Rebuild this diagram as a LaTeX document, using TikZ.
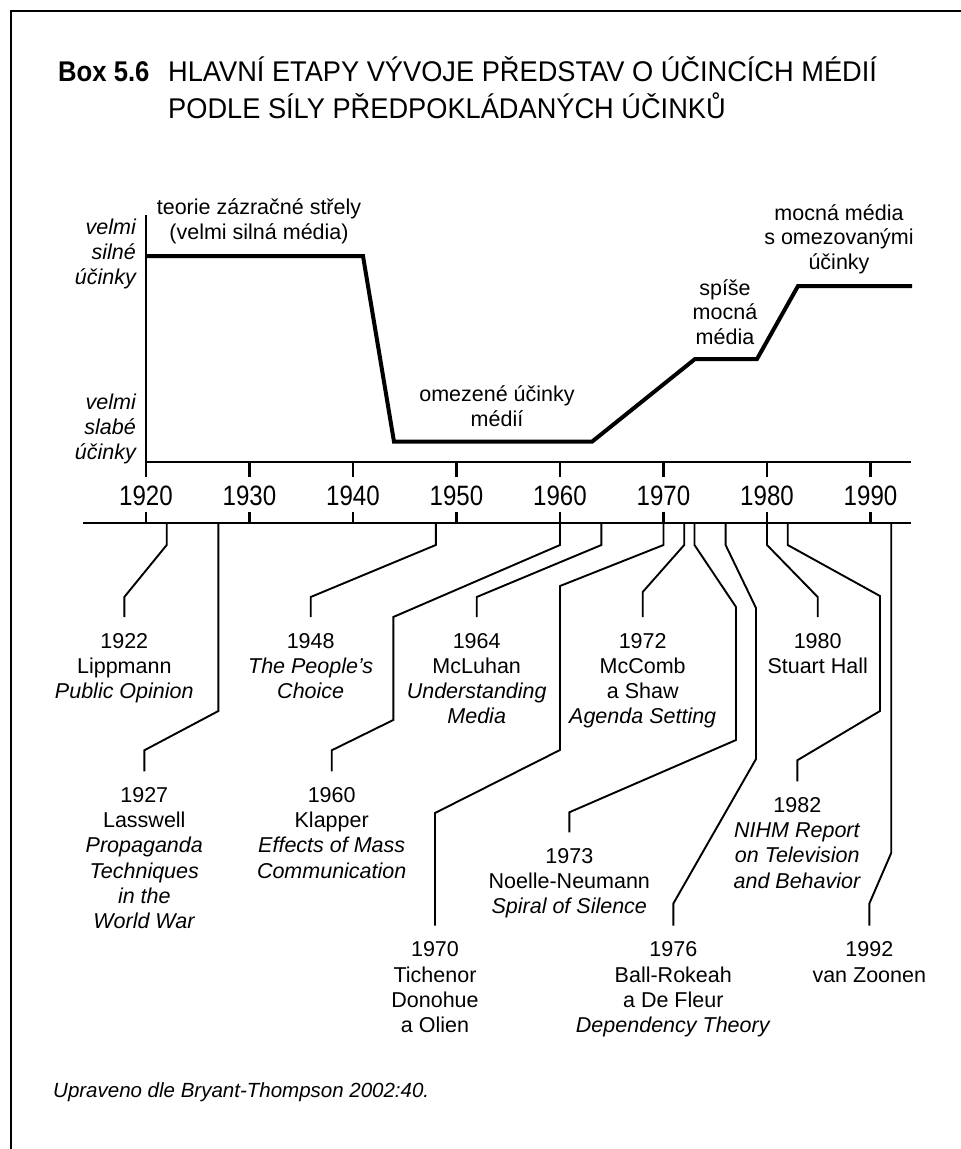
\documentclass[tikz,border=0pt]{standalone}
\usepackage{fontspec}
\setmainfont{Liberation Sans}
\newfontfamily\condfont[FakeStretch=0.86]{Liberation Sans}
\newfontfamily\titlefont[FakeStretch=0.955]{Liberation Sans}
\newfontfamily\boxfont[FakeStretch=0.9]{Liberation Sans}
\tikzset{
  frameline/.style={line width=2.2pt},
  axisline/.style={line width=2.4pt},
  curveline/.style={line width=4pt},
  conn/.style={line width=1.9pt},
  lbl/.style={inner sep=0pt, align=center, anchor=north, font=\fontsize{21.5}{25.2}\selectfont},
  clbl/.style={inner sep=0pt, align=center, font=\fontsize{21.5}{24.5}\selectfont},
  ylbl/.style={inner sep=0pt, align=right, anchor=east, font=\fontsize{21.5}{25.2}\selectfont\itshape},
  yearlbl/.style={inner sep=0pt, font=\condfont\fontsize{28}{30}\selectfont},
}
\begin{document}
\begin{tikzpicture}[x=1pt,y=-1pt]
\useasboundingbox (0,0) rectangle (961,1149);
\fill[white] (0,0) rectangle (961,1149);
% frame
\coordinate (fTL) at (11,11);
\coordinate (fTR) at (961,11);
\coordinate (fBL) at (11,1149);
\draw[frameline] (fTR) -- (fTL) -- (fBL);
% title
\node[inner sep=0pt, anchor=base west, font=\boxfont\bfseries\fontsize{28.5}{30}\selectfont] (box) at (58,81) {Box 5.6};
\node[inner sep=0pt, anchor=base west, font=\titlefont\fontsize{28.5}{30}\selectfont] (t1) at (168,81) {HLAVNÍ ETAPY VÝVOJE PŘEDSTAV O ÚČINCÍCH MÉDIÍ};
\node[inner sep=0pt, anchor=base west, font=\titlefont\fontsize{28.5}{30}\selectfont] (t2) at (168,118) {PODLE SÍLY PŘEDPOKLÁDANÝCH ÚČINKŮ};
% axes
\coordinate (vtop) at (146,215);
\coordinate (vbot) at (146,477);
\coordinate (uaL) at (146,462);
\coordinate (uaR) at (911,462);
\coordinate (laL) at (83,523);
\coordinate (laR) at (911,523);
\draw[axisline] (vtop) -- (vbot);
\draw[axisline] (uaL) -- (uaR);
\draw[axisline] (laL) -- (laR);
\foreach \y [count=\i from 0] in {1920,1930,1940,1950,1960,1970,1980,1990}{
  \coordinate (ut\y) at ({146+\i*103.5},462);
  \coordinate (lt\y) at ({146+\i*103.5},523);
  \draw[axisline] (ut\y) -- ++(0,15);
  \draw[axisline] (lt\y) -- ++(0,-11);
  \node[yearlbl] (yr\y) at ({146+\i*103.5},496) {\y};
}
% effect curve
\coordinate (c1) at (146,256);
\coordinate (c2) at (363,256);
\coordinate (c3) at (394,441.7);
\coordinate (c4) at (592,441.7);
\coordinate (c5) at (695,359);
\coordinate (c6) at (757,359);
\coordinate (c7) at (798,286);
\coordinate (c8) at (912,286);
\draw[curveline] (c1) -- (c2) -- (c3) -- (c4) -- (c5) -- (c6) -- (c7) -- (c8);
% y labels
\node[ylbl] (ystrong) at (136,254) {velmi\\silné\\účinky};
\node[ylbl] (yweak) at (136,429) {velmi\\slabé\\účinky};
% curve labels
\node[clbl] (p1) at (259,221.5) {teorie zázračné střely\\(velmi silná média)};
\node[clbl] (p2) at (497,406) {omezené účinky\\médií};
\node[clbl] (p3) at (725,312) {spíše\\mocná\\média};
\node[clbl] (p4) at (839,239) {mocná média\\s omezovanými\\účinky};
% anchor points on lower axis
\coordinate (a1922) at (166.7,523);
\coordinate (a1927) at (218.4,523);
\coordinate (a1948) at (435.8,523);
\coordinate (a1960) at (560,523);
\coordinate (a1964) at (601.4,523);
\coordinate (a1970) at (663.5,523);
\coordinate (a1972) at (684.2,523);
\coordinate (a1973) at (694.5,523);
\coordinate (a1976) at (725.6,523);
\coordinate (a1980) at (767,523);
\coordinate (a1982) at (787.7,523);
\coordinate (a1992) at (891.2,523);
% event labels
\node[lbl] (l1922) at (124.3,633) {1922\\Lippmann\\\textit{Public Opinion}};
\node[lbl] (l1927) at (144.3,787.3) {1927\\Lasswell\\\textit{Propaganda}\\\textit{Techniques}\\\textit{in the}\\\textit{World War}};
\node[lbl] (l1948) at (310.7,633) {1948\\\textit{The People’s}\\\textit{Choice}};
\node[lbl] (l1960) at (331.7,787.3) {1960\\Klapper\\\textit{Effects of Mass}\\\textit{Communication}};
\node[lbl] (l1964) at (476.7,633) {1964\\McLuhan\\\textit{Understanding}\\\textit{Media}};
\node[lbl] (l1970) at (435,941.6) {1970\\Tichenor\\Donohue\\a Olien};
\node[lbl] (l1972) at (642.7,633) {1972\\McComb\\a Shaw\\\textit{Agenda Setting}};
\node[lbl] (l1973) at (569.3,848.3) {1973\\Noelle-Neumann\\\textit{Spiral of Silence}};
\node[lbl] (l1976) at (673.3,941.6) {1976\\Ball-Rokeah\\a De Fleur\\\textit{Dependency Theory}};
\node[lbl] (l1980) at (817.7,633) {1980\\Stuart Hall};
\node[lbl] (l1982) at (797.3,797.3) {1982\\\textit{NIHM Report}\\\textit{on Television}\\\textit{and Behavior}};
\node[lbl] (l1992) at (869.3,941.6) {1992\\van Zoonen};
% connectors
\draw[conn] (a1922) -- ++(0,22) -- ([yshift=36pt]l1922.north) -- ([yshift=16pt]l1922.north);
\draw[conn] (a1927) -- (218.4,711) -- ([yshift=37pt]l1927.north) -- ([yshift=16pt]l1927.north);
\draw[conn] (a1948) -- ++(0,22) -- ([yshift=36pt]l1948.north) -- ([yshift=16pt]l1948.north);
\draw[conn] (a1960) -- ++(0,22) -- (393.3,617) -- (393.3,720) -- ([yshift=37pt]l1960.north) -- ([yshift=16pt]l1960.north);
\draw[conn] (a1964) -- ++(0,22) -- ([yshift=36pt]l1964.north) -- ([yshift=16pt]l1964.north);
\draw[conn] (a1970) -- ++(0,22) -- (560,586) -- (560,750) -- (435,813) -- ([yshift=16pt]l1970.north);
\draw[conn] (a1972) -- ++(0,22) -- ([yshift=41pt]l1972.north) -- ([yshift=16pt]l1972.north);
\draw[conn] (a1973) -- ++(0,22) -- (736,607) -- (736,740) -- ([yshift=36pt]l1973.north) -- ([yshift=16pt]l1973.north);
\draw[conn] (a1976) -- ++(0,22) -- (756,608) -- (756,759) -- ([yshift=38pt]l1976.north) -- ([yshift=16pt]l1976.north);
\draw[conn] (a1980) -- ++(0,22) -- ([yshift=36pt]l1980.north) -- ([yshift=16pt]l1980.north);
\draw[conn] (a1982) -- ++(0,22) -- (880,596) -- (880,711) -- ([yshift=37pt]l1982.north) -- ([yshift=16pt]l1982.north);
\draw[conn] (a1992) -- (891.2,853) -- ([yshift=38pt]l1992.north) -- ([yshift=16pt]l1992.north);
% footnote
\node[inner sep=0pt, anchor=base west, font=\itshape\fontsize{20.5}{24}\selectfont] (src) at (53,1097) {Upraveno dle Bryant-Thompson 2002:40.};
\end{tikzpicture}
\end{document}
